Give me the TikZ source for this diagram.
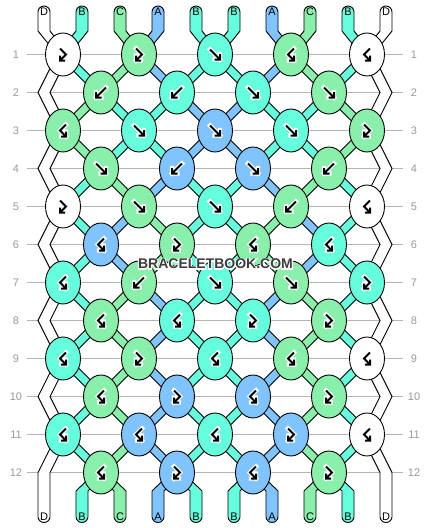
\documentclass[tikz,border=0pt]{standalone}
\usepackage{fontspec}
\setmainfont{Liberation Sans}
\newfontfamily\haloFont{Liberation Sans Bold}[FakeBold=16]
\usetikzlibrary{calc,shapes.geometric}

\definecolor{colA}{HTML}{80C4FF}
\definecolor{colB}{HTML}{66FFDD}
\definecolor{colC}{HTML}{88F0AA}
\definecolor{colD}{HTML}{FFFFFF}
\definecolor{numgray}{HTML}{9A9A9A}
\definecolor{linegray}{HTML}{B4B4B4}
\definecolor{wmgray}{HTML}{3C3C3C}

\def\placeCoords{%
\foreach \r in {1,3,...,11}
  \foreach \k in {1,...,5}
    \coordinate (k\r-\k) at ({63+76*(\k-1)},{54.5+38*(\r-1)});
\foreach \r in {2,4,...,12} {
  \foreach \k in {1,...,4}
    \coordinate (k\r-\k) at ({101+76*(\k-1)},{54.5+38*(\r-1)});
  \coordinate (el\r) at (44,{54.5+38*(\r-1)});
  \coordinate (er\r) at (386,{54.5+38*(\r-1)});
}
\foreach \n in {1,...,10} {
  \coordinate (t\n) at ({44+38*(\n-1)},12);
  \coordinate (tb\n) at ({44+38*(\n-1)},31);
  \coordinate (bb\n) at ({44+38*(\n-1)},491);
  \coordinate (b\n) at ({44+38*(\n-1)},516.5);
}
}

% one thread: band of fixed horizontal width through the points
\def\strand#1#2{%
\foreach \q [count=\n] in {#2} {%
  \ifnum\n=1
    \xdef\lside{($(\q)+(-6,0)$)}%
    \xdef\rside{($(\q)+(6,0)$)}%
  \else
    \xdef\lside{\lside -- ($(\q)+(-6,0)$)}%
    \xdef\rside{($(\q)+(6,0)$) -- \rside}%
  \fi
}%
\edef\tubepath{\noexpand\fill[#1] \lside -- \rside -- cycle;
  \noexpand\draw[tubeside] \lside; \noexpand\draw[tubeside] \rside;}%
\tubepath}

% knot signs
\def\symF#1{\begin{scope}[shift={(#1)}]
\foreach \s in {halo,sym} \draw[\s] (-5,-5) -- (5,5) (-0.5,5) -- (5,5) -- (5,-0.5);
\end{scope}}
\def\symB#1{\begin{scope}[shift={(#1)}]
\foreach \s in {halo,sym} \draw[\s] (5,-5) -- (-5,5) (0.5,5) -- (-5,5) -- (-5,-0.5);
\end{scope}}
\def\symFB#1{\begin{scope}[shift={(#1)}]
\foreach \s in {halo,sym} \draw[\s] (-3,-6) -- (3,0) -- (-3,6) (2,6) -- (-3,6) -- (-3,1);
\end{scope}}
\def\symBF#1{\begin{scope}[shift={(#1)}]
\foreach \s in {halo,sym} \draw[\s] (3,-6) -- (-3,0) -- (3,6) (-2,6) -- (3,6) -- (3,1);
\end{scope}}

\def\knot#1#2#3{\node[knot#2] (n#1) at (k#1) {}; \csname sym#3\endcsname{k#1}}

\begin{document}
\begin{tikzpicture}[x=1pt, y=-1pt]

% styles
\tikzstyle{knot}=[ellipse, draw, line width=0.9pt, minimum width=35pt, minimum height=43pt, inner sep=0pt]
\tikzstyle{knotA}=[knot, fill=colA]
\tikzstyle{knotB}=[knot, fill=colB]
\tikzstyle{knotC}=[knot, fill=colC]
\tikzstyle{knotD}=[knot, fill=colD]
\tikzstyle{tubeside}=[line width=0.9pt, line join=miter]
\tikzstyle{sym}=[line width=2pt, line join=miter]
\tikzstyle{halo}=[line width=4.4pt, white, line join=miter, line cap=rect]
\tikzstyle{rownum}=[text=numgray, font=\fontsize{11}{13}\selectfont, minimum width=22pt, inner sep=0pt]
\tikzstyle{rowline}=[linegray, line width=0.9pt]
\tikzstyle{strLabel}=[font=\fontsize{11}{13}\selectfont, inner sep=0pt]
\tikzstyle{wmark}=[text=wmgray, font=\fontsize{14}{16}\selectfont\bfseries, inner sep=0pt]
\tikzstyle{wmhalo}=[text=white, font=\fontsize{14}{16}\selectfont\haloFont, inner sep=0pt]

\useasboundingbox (0,0) rectangle (430,528);
\fill[white] (0,0) rectangle (430,528);
\placeCoords

% row numbers and guide lines
\foreach \r in {1,...,12} {
  \node[rownum] (rl\r) at (16,{54.5+38*(\r-1)}) {\r};
  \node[rownum] (rr\r) at (414,{54.5+38*(\r-1)}) {\r};
  \draw[rowline] (rl\r.east) -- (rr\r.west);
}

% thread ends
\foreach \l [count=\n] in {D,B,C,A,B,B,A,C,B,D} {
  \fill[col\l] (t\n) circle (6);
  \draw[tubeside] ($(t\n)+(-6,0)$) arc (180:360:6);
  \fill[col\l] (b\n) circle (6);
  \draw[tubeside] ($(b\n)+(-6,0)$) arc (180:0:6);
}

% threads
\strand{colD}{t1,tb1,k1-1,el2,k3-1,el4,k5-1,el6,k7-1,el8,k9-1,el10,k11-1,el12,bb1,b1}
\strand{colD}{t10,tb10,k1-5,er2,k3-5,er4,k5-5,er6,k7-5,er8,k9-5,er10,k11-5,er12,bb10,b10}
\strand{colB}{t2,tb2,k1-1,k2-1,k3-2,k4-2,k5-3,k6-3,k7-3,k8-2,k9-3,k10-2,k11-3,k12-2,bb5,b5}
\strand{colC}{t3,tb3,k1-2,k2-1,k3-1,k4-1,k5-2,k6-2,k7-2,k8-1,k9-2,k10-1,k11-2,k12-1,bb3,b3}
\strand{colA}{t4,tb4,k1-2,k2-2,k3-3,k4-3,k5-4,k6-4,k7-4,k8-3,k9-4,k10-3,k11-4,k12-3,bb7,b7}
\strand{colB}{t5,tb5,k1-3,k2-3,k3-4,k4-4,k5-5,k6-4,k7-5,k8-4,k9-5,k10-4,k11-5,k12-4,bb9,b9}
\strand{colB}{t6,tb6,k1-3,k2-2,k3-2,k4-1,k5-1,k6-1,k7-1,k8-1,k9-1,k10-1,k11-1,k12-1,bb2,b2}
\strand{colA}{t7,tb7,k1-4,k2-3,k3-3,k4-2,k5-2,k6-1,k7-2,k8-2,k9-2,k10-2,k11-2,k12-2,bb4,b4}
\strand{colC}{t8,tb8,k1-4,k2-4,k3-5,k4-4,k5-4,k6-3,k7-4,k8-4,k9-4,k10-4,k11-4,k12-4,bb8,b8}
\strand{colB}{t9,tb9,k1-5,k2-4,k3-4,k4-3,k5-3,k6-2,k7-3,k8-3,k9-3,k10-3,k11-3,k12-3,bb6,b6}

% knots, row by row
\foreach \c/\t [count=\k] in {D/FB,C/FB,B/F,C/BF,D/BF} {\knot{1-\k}{\c}{\t}}
\foreach \c/\t [count=\k] in {C/B,B/B,B/F,C/F} {\knot{2-\k}{\c}{\t}}
\foreach \c/\t [count=\k] in {C/BF,B/F,A/F,B/F,C/FB} {\knot{3-\k}{\c}{\t}}
\foreach \c/\t [count=\k] in {C/F,A/B,A/F,C/B} {\knot{4-\k}{\c}{\t}}
\foreach \c/\t [count=\k] in {D/FB,C/F,B/F,C/B,D/BF} {\knot{5-\k}{\c}{\t}}
\foreach \c/\t [count=\k] in {A/BF,C/FB,C/BF,B/BF} {\knot{6-\k}{\c}{\t}}
\foreach \c/\t [count=\k] in {B/BF,C/B,B/F,C/F,B/FB} {\knot{7-\k}{\c}{\t}}
\foreach \c/\t [count=\k] in {C/BF,B/BF,B/FB,C/FB} {\knot{8-\k}{\c}{\t}}
\foreach \c/\t [count=\k] in {B/BF,C/FB,B/BF,C/BF,D/BF} {\knot{9-\k}{\c}{\t}}
\foreach \c/\t [count=\k] in {C/BF,A/FB,A/BF,C/FB} {\knot{10-\k}{\c}{\t}}
\foreach \c/\t [count=\k] in {B/BF,A/BF,B/BF,A/FB,D/BF} {\knot{11-\k}{\c}{\t}}
\foreach \c/\t [count=\k] in {C/BF,A/FB,A/BF,C/FB} {\knot{12-\k}{\c}{\t}}

% thread letters
\foreach \l [count=\n] in {D,B,C,A,B,B,A,C,B,D} {
  \node[strLabel] (lt\n) at (t\n) {\l};
  \node[strLabel] (lb\n) at (b\n) {\l};
}

% watermark
\node[wmhalo] (wmh) at (215.5,264) {BRACELETBOOK.COM};
\node[wmark] (wm) at (wmh) {BRACELETBOOK.COM};

\end{tikzpicture}
\end{document}
